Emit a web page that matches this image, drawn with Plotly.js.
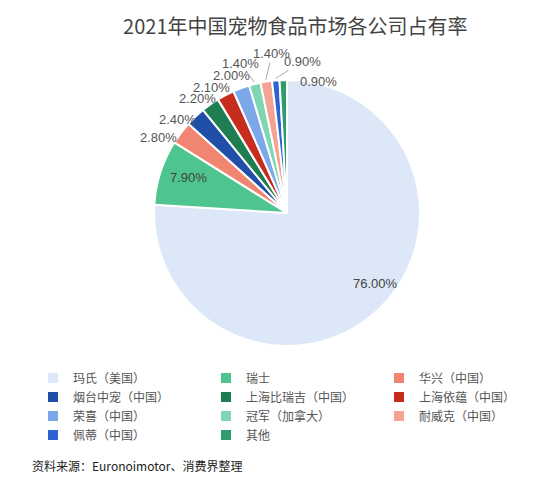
<!DOCTYPE html>
<html>
<head>
<meta charset="utf-8">
<script src="https://cdn.plot.ly/plotly-3.0.1.min.js"></script>
<style>html,body{margin:0;padding:0;background:#fff;}#chart{width:552px;height:483px;}</style>
</head>
<body>
<div id="chart"></div>
<script>
// ---- data ----
const companies = ["玛氏（美国）","瑞士","华兴（中国）","烟台中宠（中国）","上海比瑞吉（中国）","上海依蕴（中国）","荣喜（中国）","冠军（加拿大）","耐威克（中国）","佩蒂（中国）","其他"];
const shares = [76.0, 7.9, 2.8, 2.4, 2.2, 2.1, 2.0, 1.4, 1.4, 0.9, 0.9];

// ---- styles ----
const colors = ["#dce8f7","#4ec48e","#f08672","#1f4fa6","#1f7d52","#c62d1e","#7ca8ea","#7fd6b2","#f4a393","#2e62d2","#2e9c6c"];
// label offset (px) from each slice's outer edge at its mid-angle, and leader line flag
const labelDx = [-4, 30, -21, -17, -12, -13, -9, -14, 6, 27, 35];
const labelDy = [-28, 6, 6, 4, -4, -6, -11, -19, -26, -17, 3];
const labelLeader = [false,false,false,false,false,false,false,true,true,true,false];

const W = 552, H = 483;

const trace = {
  type: "pie",
  labels: companies,
  values: shares,
  sort: false,
  direction: "clockwise",
  rotation: 0,
  marker: {colors: colors, line: {color: "#ffffff", width: 2}},
  textinfo: "none",
  domain: {x: [0.279, 0.761], y: [0.2837, 0.8344]},
  hoverinfo: "label+percent"
};

const sourceNote = {text: "资料来源：Euronoimotor、消费界整理", xref: "paper", yref: "paper",
  x: 30/W, y: 1-465/H, xanchor: "left", yanchor: "middle", showarrow: false,
  font: {family: "Noto Sans CJK SC, sans-serif", size: 12, color: "#222222"}};

const layout = {
  width: W, height: H,
  margin: {l: 0, r: 0, t: 0, b: 0},
  paper_bgcolor: "#ffffff",
  title: {text: "2021年中国宠物食品市场各公司占有率", x: 0.535, xanchor: "center", y: 0.945, yanchor: "middle",
          font: {family: "Noto Sans CJK SC, sans-serif", size: 20, color: "#444444"}},
  showlegend: true,
  legend: {orientation: "h", x: 0.115, xanchor: "left", y: 0.2474, yanchor: "top",
           entrywidth: 128, entrywidthmode: "pixels", traceorder: "normal",
           font: {family: "Noto Sans CJK SC, sans-serif", size: 12, color: "#555555"},
           itemwidth: 30, tracegroupgap: 0},
  annotations: [sourceNote]
};

Plotly.newPlot("chart", [trace], layout, {displayModeBar: false, staticPlot: true}).then(function(gd) {
  const cd = gd.calcdata[0];
  const cx = cd[0].cx, cy = cd[0].cy, r = cd[0].r;
  const total = shares.reduce((a, b) => a + b, 0);
  let cum = 0;
  const anns = [sourceNote];
  shares.forEach(function(v, i) {
    const ang = 2 * Math.PI * (cum + v / 2) / total;
    cum += v;
    const R = r + 2;
    const px = cx + R * Math.sin(ang), py = cy - R * Math.cos(ang);
    const base = {
      text: v.toFixed(2) + "%", xref: "paper", yref: "paper",
      x: px / W, y: 1 - py / H,
      font: {family: "Liberation Sans, sans-serif", size: 13, color: i < 2 ? "#444444" : "#555555"}
    };
    if (labelLeader[i]) {
      anns.push(Object.assign(base, {showarrow: true, ax: labelDx[i], ay: labelDy[i], axref: "pixel", ayref: "pixel",
        arrowhead: 0, arrowwidth: 1, arrowcolor: "#aaaaaa", standoff: 0, startstandoff: 0}));
    } else {
      anns.push(Object.assign(base, {showarrow: false, xanchor: "center", yanchor: "middle",
        xshift: labelDx[i], yshift: -labelDy[i]}));
    }
  });
  return Plotly.relayout(gd, {annotations: anns});
});
</script>
</body>
</html>
